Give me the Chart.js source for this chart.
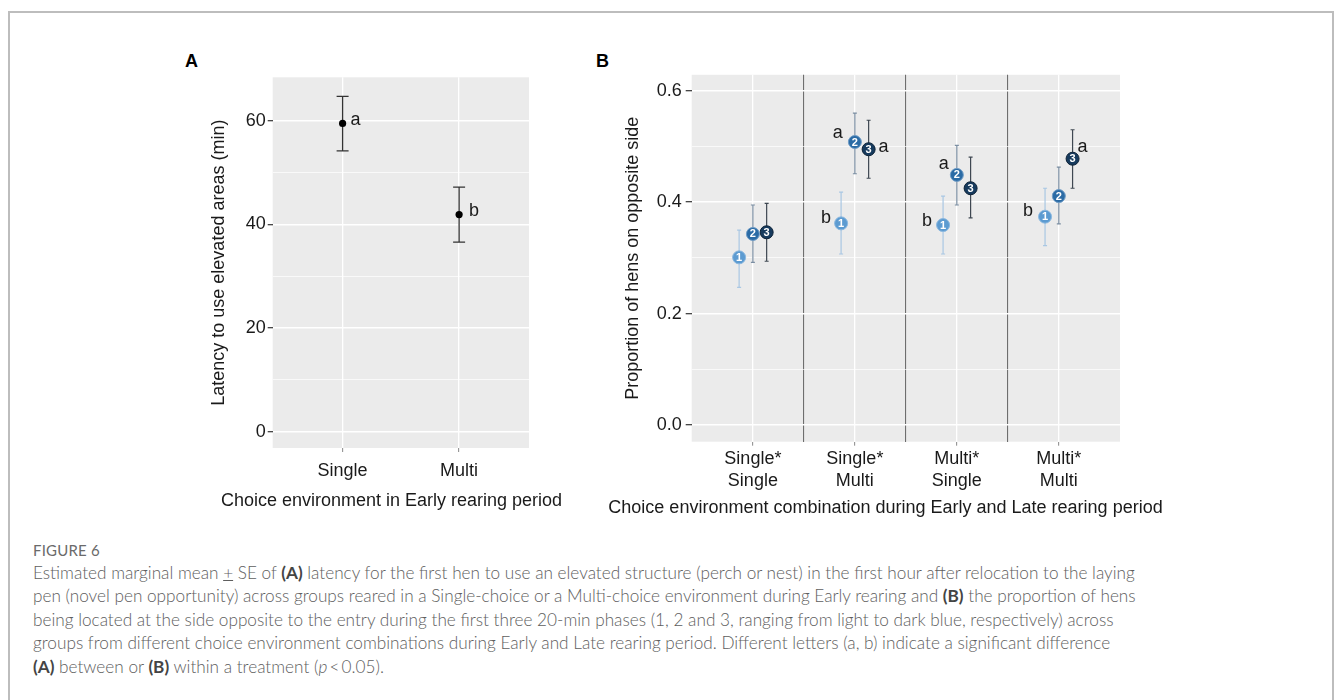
<!DOCTYPE html>
<html>
<head>
<meta charset="utf-8">
<script src="https://cdn.jsdelivr.net/npm/chart.js@4.4.1/dist/chart.umd.min.js"></script>
<style>
  html, body { margin: 0; padding: 0; background: #fff; }
  body { width: 1335px; height: 700px; position: relative; overflow: hidden; font-family: "Liberation Sans", Arial, sans-serif; }
  #frame { position: absolute; left: 8px; top: 11px; width: 1322px; height: 760px; border: 2px solid #bdbdbd; border-bottom: none; }
  .tag { position: absolute; font: bold 18px "Liberation Sans", Arial, sans-serif; color: #000; }
  canvas { position: absolute; }
  #caption { position: absolute; left: 33px; top: 539px; font-family: Lato, "Open Sans", sans-serif; color: #5e5e5e; }
  #caption .fig { font-size: 15px; letter-spacing: 0.2px; line-height: 22px; color: #6a6a6a; }
  #caption .txt { font-size: 17.2px; font-weight: 300; line-height: 23.4px; white-space: nowrap; }
  #caption b { color: #444; font-weight: 700; }
</style>
</head>
<body>
<div id="frame"></div>
<div class="tag" style="left:185px; top:51px;">A</div>
<div class="tag" style="left:596px; top:51px;">B</div>
<canvas id="chartA" width="390" height="460" style="left:190px; top:60px;"></canvas>
<canvas id="chartB" width="580" height="470" style="left:600px; top:60px;"></canvas>
<div id="caption">
  <div class="fig">FIGURE 6</div>
  <div class="txt">Estimated marginal mean <u>+</u> SE of <b>(A)</b> latency for the first hen to use an elevated structure (perch or nest) in the first hour after relocation to the laying<br>pen (novel pen opportunity) across groups reared in a Single-choice or a Multi-choice environment during Early rearing and <b>(B)</b> the proportion of hens<br>being located at the side opposite to the entry during the first three 20-min phases (1, 2 and 3, ranging from light to dark blue, respectively) across<br>groups from different choice environment combinations during Early and Late rearing period. Different letters (a, b) indicate a significant difference<br><b>(A)</b> between or <b>(B)</b> within a treatment (<i>p</i>&thinsp;&lt;&thinsp;0.05).</div>
</div>

<script>
// --- Panel A data: latency (min) ---
const catsA = ['Single', 'Multi'];
const meanA = [59.5, 41.9];
const lowA = [54.2, 36.6];
const highA = [64.7, 47.2];
const lettersA = ['a', 'b'];
const ticksA = [0, 10, 20, 30, 40, 50, 60];

// --- Panel B data: proportion on opposite side, phases 1-3 ---
const catsB = [['Single*', 'Single'], ['Single*', 'Multi'], ['Multi*', 'Single'], ['Multi*', 'Multi']];
const phases = ['1', '2', '3'];
const meanB1 = [0.301, 0.362, 0.359, 0.374];
const lowB1 = [0.247, 0.307, 0.307, 0.322];
const highB1 = [0.350, 0.418, 0.411, 0.425];
const meanB2 = [0.343, 0.508, 0.449, 0.411];
const lowB2 = [0.292, 0.451, 0.395, 0.361];
const highB2 = [0.395, 0.560, 0.502, 0.463];
const meanB3 = [0.346, 0.495, 0.425, 0.478];
const lowB3 = [0.294, 0.443, 0.372, 0.425];
const highB3 = [0.398, 0.547, 0.481, 0.530];
const lettersB1 = ['', 'b', 'b', 'b'];
const lettersB2 = ['', 'a', 'a', ''];
const lettersB3 = ['', 'a', '', 'a'];
const ticksB = [0, 0.1, 0.2, 0.3, 0.4, 0.5, 0.6];

const FONT = '"Liberation Sans", Arial, sans-serif';
const INK = '#1a1a1a';

// --- shared plugins ---
const panelBg = {
    id: 'panelBg',
    beforeDraw(chart) {
        const { ctx, chartArea: a } = chart;
        ctx.save();
        ctx.fillStyle = '#ebebeb';
        ctx.fillRect(a.left, a.top, a.right - a.left, a.bottom - a.top);
        ctx.restore();
    }
};

// x title drawn by hand: the built-in one gets squeezed to the axis width
const xTitle = {
    id: 'xTitle',
    afterDraw(chart, args, opts) {
        const { ctx } = chart;
        ctx.save();
        ctx.fillStyle = INK;
        ctx.font = '18px ' + FONT;
        ctx.textAlign = 'center';
        ctx.textBaseline = 'middle';
        ctx.fillText(opts.text, opts.cx, opts.cy);
        ctx.restore();
    }
};

// error bars, numbers inside the markers and significance letters
const errorBars = {
    id: 'errorBars',
    beforeDatasetsDraw(chart) {
        const { ctx, scales: { x, y } } = chart;
        ctx.save();
        chart.data.datasets.forEach(ds => {
            ctx.strokeStyle = ds.barColor;
            ctx.lineWidth = ds.barWidth;
            ds.data.forEach((pt, i) => {
                const px = x.getPixelForValue(pt.x);
                const y1 = y.getPixelForValue(ds.low[i]);
                const y2 = y.getPixelForValue(ds.high[i]);
                ctx.beginPath();
                ctx.moveTo(px, y1); ctx.lineTo(px, y2);
                ctx.moveTo(px - ds.capHalf, y1); ctx.lineTo(px + ds.capHalf, y1);
                ctx.moveTo(px - ds.capHalf, y2); ctx.lineTo(px + ds.capHalf, y2);
                ctx.stroke();
            });
        });
        ctx.restore();
    },
    afterDatasetsDraw(chart, args, opts) {
        const { ctx } = chart;
        ctx.save();
        ctx.textAlign = 'center';
        ctx.textBaseline = 'middle';
        chart.data.datasets.forEach((ds, di) => {
            const meta = chart.getDatasetMeta(di);
            meta.data.forEach((el, i) => {
                if (ds.tag) {
                    ctx.fillStyle = '#fff';
                    ctx.font = 'bold 11px ' + FONT;
                    ctx.fillText(ds.tag, el.x, el.y + 0.5);
                }
                const letter = ds.letters[i];
                if (letter) {
                    const off = (opts.nudge[di] && opts.nudge[di][i]) || opts.defaultNudge;
                    ctx.fillStyle = INK;
                    ctx.font = '18px ' + FONT;
                    ctx.fillText(letter, el.x + off[0], el.y + off[1]);
                }
            });
        });
        ctx.restore();
    }
};

const tickFont = { family: FONT, size: 18 };

// --- Panel A ---
new Chart(document.getElementById('chartA'), {
    type: 'scatter',
    data: {
        datasets: [{
            data: meanA.map((v, i) => ({ x: i + 1, y: v })),
            low: lowA, high: highA, letters: lettersA,
            pointRadius: 3.6, pointBackgroundColor: '#000', pointBorderWidth: 0,
            barColor: '#333', barWidth: 1.3, capHalf: 6
        }]
    },
    options: {
        responsive: false,
        animation: false,
        layout: { padding: { left: 14, top: 17.3, right: 51, bottom: 0 } },
        plugins: {
            legend: { display: false },
            tooltip: { enabled: false },
            errorBars: { nudge: { 0: [[13, -3], [15, -4]] }, defaultNudge: [14, -3] },
            xTitle: { text: 'Choice environment in Early rearing period', cx: 201.5, cy: 441 }
        },
        scales: {
            x: {
                type: 'linear', min: 0.4, max: 2.6,
                afterBuildTicks: s => { s.ticks = catsA.map((c, i) => ({ value: i + 1 })); },
                afterFit: s => { s.height = 72; },
                ticks: { callback: (v, i) => catsA[i], font: tickFont, color: INK, padding: 8, maxRotation: 0, autoSkip: false },
                grid: { color: '#fff', lineWidth: 1.3, tickLength: 4, tickColor: '#888', tickWidth: 1 },
                border: { display: false }
            },
            y: {
                min: -3.15, max: 68.4,
                afterBuildTicks: s => { s.ticks = ticksA.map(v => ({ value: v })); },
                afterFit: s => { s.width = 68.7; },
                ticks: { callback: v => (v % 20 === 0 ? v : ''), font: tickFont, color: INK, padding: 2 },
                grid: {
                    color: '#fff',
                    lineWidth: c => (c.tick && c.tick.value % 20 === 0 ? 1.4 : 0.7),
                    tickLength: 5,
                    tickColor: c => (c.tick && c.tick.value % 20 === 0 ? '#333' : 'rgba(0,0,0,0)'),
                    tickWidth: 1.2
                },
                border: { display: false },
                title: { display: true, text: 'Latency to use elevated areas (min)', font: { family: FONT, size: 18 }, color: INK, padding: { top: 4, bottom: 0 } }
            }
        }
    },
    plugins: [panelBg, errorBars, xTitle]
});

// --- Panel B ---
const dodge = 0.135;
const phaseStyle = [
    { fill: '#5c9bd1', edge: '#8bb8e0', bar: '#a9c7e3' },
    { fill: '#2b6ba5', edge: '#6f9cc6', bar: '#7b8ea2' },
    { fill: '#163a5d', edge: '#0d2237', bar: '#3f4852' }
];
const seriesB = [
    { mean: meanB1, low: lowB1, high: highB1, letters: lettersB1 },
    { mean: meanB2, low: lowB2, high: highB2, letters: lettersB2 },
    { mean: meanB3, low: lowB3, high: highB3, letters: lettersB3 }
];

new Chart(document.getElementById('chartB'), {
    type: 'scatter',
    data: {
        datasets: seriesB.map((s, p) => ({
            data: s.mean.map((v, i) => ({ x: i + 1 + (p - 1) * dodge, y: v })),
            low: s.low, high: s.high, letters: s.letters, tag: phases[p],
            pointRadius: 6.5,
            pointBackgroundColor: phaseStyle[p].fill,
            pointBorderColor: phaseStyle[p].edge,
            pointBorderWidth: 1,
            barColor: phaseStyle[p].bar, barWidth: 1.2, capHalf: 2
        }))
    },
    options: {
        responsive: false,
        animation: false,
        layout: { padding: { left: 18.5, top: 13.3, right: 60, bottom: 0 } },
        plugins: {
            legend: { display: false },
            tooltip: { enabled: false },
            errorBars: {
                nudge: {
                    0: [null, [-15, -5], [-16, -4], [-17, -6]],
                    1: [null, [-17, -9], [-13, -11], null],
                    2: [null, [15, -2], null, [10, -12]]
                },
                defaultNudge: [-15, -5]
            },
            xTitle: { text: 'Choice environment combination during Early and Late rearing period', cx: 285.5, cy: 448 }
        },
        scales: {
            x: {
                type: 'linear', min: 0.4, max: 4.6,
                afterBuildTicks: s => { s.ticks = [1, 1.5, 2, 2.5, 3, 3.5, 4].map(v => ({ value: v })); },
                afterFit: s => { s.height = 88.3; },
                ticks: {
                    callback: (v, i) => (i % 2 === 0 ? catsB[i / 2] : ''),
                    font: { family: FONT, size: 18, lineHeight: 1.25 }, color: INK, padding: 2, maxRotation: 0, autoSkip: false
                },
                grid: {
                    color: c => (c.tick && c.tick.value % 1 === 0 ? '#fff' : '#6e6e6e'),
                    lineWidth: c => (c.tick && c.tick.value % 1 === 0 ? 1.3 : 1.1),
                    tickLength: 4,
                    tickColor: c => (c.tick && c.tick.value % 1 === 0 ? '#888' : 'rgba(0,0,0,0)'),
                    tickWidth: 1
                },
                border: { display: false }
            },
            y: {
                min: -0.0298, max: 0.6286,
                afterBuildTicks: s => { s.ticks = ticksB.map(v => ({ value: v })); },
                afterFit: s => { s.width = 73.2; },
                ticks: {
                    callback: (v, i) => (i % 2 === 0 ? v.toFixed(1) : ''),
                    font: tickFont, color: INK, padding: 4
                },
                grid: {
                    color: '#fff',
                    lineWidth: c => (c.index % 2 === 0 ? 1.4 : 0.7),
                    tickLength: 6,
                    tickColor: c => (c.index % 2 === 0 ? '#333' : 'rgba(0,0,0,0)'),
                    tickWidth: 1.2
                },
                border: { display: false },
                title: { display: true, text: 'Proportion of hens on opposite side', font: { family: FONT, size: 18 }, color: INK, padding: { top: 4, bottom: 0 } }
            }
        }
    },
    plugins: [panelBg, errorBars, xTitle]
});
</script>
</body>
</html>
